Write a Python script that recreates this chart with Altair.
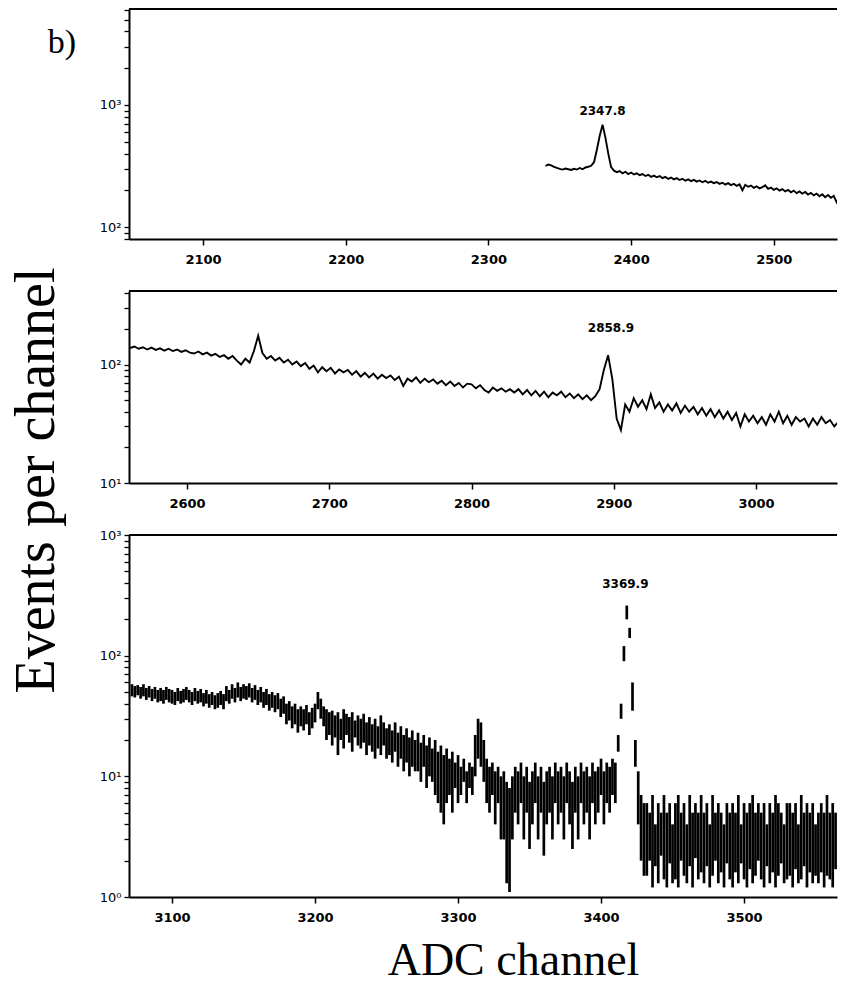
import altair as alt
import pandas as pd

# ---------------- data ----------------
# panel 1 (top): counts every 2 channels starting at channel 2340
p1_start, p1_step = 2340, 2
p1_counts = [318, 325, 320, 312, 305, 300, 296, 302, 298, 294,
             300, 296, 305, 298, 308, 312, 318, 340, 430, 560,
             690, 540, 400, 310, 290, 282, 288, 276, 284, 272,
             280, 270, 276, 266, 272, 262, 268, 258, 264, 256,
             262, 252, 258, 248, 255, 246, 252, 243, 249, 240,
             246, 238, 244, 236, 241, 233, 239, 231, 236, 229,
             234, 226, 231, 223, 229, 221, 226, 218, 224, 200,
             222, 214, 219, 210, 216, 208, 213, 220, 206, 211,
             202, 208, 199, 205, 196, 202, 193, 199, 190, 196,
             188, 194, 185, 191, 182, 188, 179, 186, 176, 183,
             174, 180, 160, 176, 172]

# panel 2 (middle): counts every 3 channels starting at channel 2560
p2_start, p2_step = 2560, 3
p2_counts = [138, 142, 136, 140, 134, 139, 133, 137, 131, 136,
             130, 134, 128, 132, 126, 124, 129, 122, 126, 119,
             123, 116, 120, 112, 118, 108, 100, 112, 104, 130,
             175, 125, 112, 118, 108, 114, 104, 110, 100, 106,
             97, 103, 92, 98, 86, 95, 88, 94, 84, 91,
             86, 90, 82, 88, 79, 85, 78, 84, 76, 82,
             77, 81, 74, 79, 66, 76, 72, 78, 70, 76,
             71, 75, 69, 73, 67, 72, 66, 70, 64, 69,
             68, 63, 67, 61, 58, 64, 60, 63, 59, 62,
             58, 62, 56, 61, 55, 60, 54, 59, 53, 58,
             55, 59, 53, 57, 52, 56, 51, 55, 50, 54,
             62, 90, 120, 75, 35, 28, 46, 40, 52, 44,
             50, 42, 56, 43, 48, 40, 46, 41, 47, 39,
             45, 40, 44, 38, 43, 37, 42, 36, 41, 35,
             40, 34, 39, 30, 38, 33, 37, 32, 36, 31,
             38, 33, 40, 32, 37, 31, 36, 33, 35, 30,
             35, 31, 36, 32, 34, 30, 33]

# panel 3 (bottom): spread of counts (high / low) every 2 channels from 3072
p3_start, p3_step = 3072, 2
p3_high = [58, 56, 57, 55, 58, 54, 56, 53, 55, 52,
           54, 52, 55, 53, 52, 50, 54, 51, 53, 55,
           52, 50, 54, 51, 53, 49, 52, 48, 50, 47,
           49, 51, 48, 56, 52, 58, 54, 60, 55, 58,
           56, 59, 54, 57, 52, 55, 50, 53, 48, 50,
           47, 49, 44, 46, 40, 42, 38, 40, 36, 38,
           36, 39, 34, 37, 40, 50, 44, 38, 36, 34,
           35, 32, 34, 30, 36, 33, 31, 34, 29, 32,
           30, 33, 28, 31, 27, 30, 26, 32, 28, 25,
           27, 24, 28, 23, 26, 22, 25, 21, 24, 20,
           23, 19, 22, 18, 21, 17, 20, 16, 18, 15,
           17, 14, 16, 13, 15, 12, 14, 11, 13, 12,
           22, 30, 28, 20, 14, 12, 13, 11, 12, 10,
           11, 9, 8, 10, 12, 11, 13, 10, 12, 9,
           11, 13, 10, 12, 9, 11, 12, 10, 13, 11,
           12, 10, 13, 11, 9, 12, 10, 13, 11, 12,
           10, 13, 11, 12, 14, 11, 13, 12, 14, 13,
           22, 40, 120, 260, 170, 60, 20, 11, 7, 6,
           6, 5, 7, 4, 6, 5, 7, 5, 6, 4,
           6, 7, 5, 6, 4, 7, 5, 6, 5, 7,
           5, 6, 4, 7, 5, 6, 5, 4, 6, 5,
           6, 5, 7, 4, 6, 5, 6, 7, 5, 6,
           5, 6, 4, 6, 5, 7, 6, 5, 4, 6,
           6, 5, 6, 4, 7, 5, 6, 5, 6, 4,
           5, 6, 5, 7, 5, 6, 5, 6, 5]
p3_low = [46, 45, 47, 44, 46, 43, 45, 42, 44, 41,
          42, 40, 43, 41, 40, 39, 42, 40, 41, 43,
          41, 39, 42, 40, 41, 38, 40, 37, 39, 36,
          37, 39, 36, 42, 40, 44, 41, 45, 42, 44,
          43, 45, 41, 43, 39, 41, 37, 39, 35, 37,
          34, 36, 31, 33, 27, 29, 25, 27, 23, 26,
          24, 27, 22, 25, 28, 36, 30, 26, 20, 22,
          18, 21, 15, 20, 17, 22, 19, 16, 21, 18,
          17, 19, 15, 18, 16, 14, 17, 15, 18, 14,
          15, 13, 16, 12, 14, 11, 13, 10, 12, 11,
          11, 9, 12, 8, 10, 9, 7, 6, 5, 4,
          6, 7, 5, 8, 6, 7, 9, 6, 8, 7,
          10, 14, 12, 9, 6, 5, 7, 4, 6, 3,
          3, 1.3, 1.1, 3, 5, 4, 6, 3, 5, 2.5,
          4, 6, 3, 5, 2.2, 4, 5, 3, 6, 4,
          5, 3, 6, 4, 2.5, 5, 3, 6, 4, 5,
          3, 6, 4, 5, 7, 4, 6, 5, 7, 6,
          16, 30, 90, 200, 140, 35, 12, 4, 2, 1.5,
          1.5, 2, 1.2, 1.8, 1.3, 2.2, 1.4, 1.2, 1.9, 1.3,
          1.4, 1.2, 2, 1.5, 1.3, 1.8, 1.2, 2.1, 1.4, 1.6,
          1.3, 1.8, 1.2, 1.5, 2, 1.3, 1.6, 1.2, 1.9, 1.4,
          1.2, 1.6, 1.3, 1.9, 1.4, 1.2, 1.7, 1.3, 1.5, 2,
          1.4, 1.2, 1.8, 1.3, 1.6, 1.2, 1.5, 1.9, 1.3, 1.4,
          1.5, 1.2, 1.7, 1.3, 1.4, 1.8, 1.2, 1.6, 1.3, 1.5,
          1.3, 1.6, 1.2, 1.5, 1.4, 1.2, 1.7, 1.3, 1.5]

p1_xticks = [2100, 2200, 2300, 2400, 2500]
p2_xticks = [2600, 2700, 2800, 2900, 3000]
p3_xticks = [3100, 3200, 3300, 3400, 3500]

peak_labels = ["2347.8", "2858.9", "3369.9"]
peak_x = [2380, 2898, 3417]
peak_y = [900, 205, 390]

# ---------------- layout constants ----------------
W = 708
H1, H2, H3 = 230, 192, 362
X1 = [2048.1, 2544.3]
X2 = [2559.2, 3056.9]
X3 = [3069.9, 3565.0]
Y1 = [80, 6100]
Y2 = [10, 418]
Y3 = [1, 1000]

LABEL_EXPR = ("datum.value == 1 ? '10\u2070' : datum.value == 10 ? '10\u00b9' : "
              "datum.value == 100 ? '10\u00b2' : datum.value == 1000 ? '10\u00b3' : ''")


def log_ticks(dom):
    out = []
    for e in range(-1, 5):
        for m in range(1, 10):
            v = m * 10 ** e
            if dom[0] <= v <= dom[1]:
                out.append(v)
    return out


def panel(main, xdom, ydom, H, xticks, label, lx, ly,
          yaxis_extra=None, xaxis_extra=None):
    xs = alt.Scale(domain=xdom, nice=False, zero=False)
    ys = alt.Scale(type="log", domain=ydom, nice=False)
    xa = dict(values=xticks, ticks=True, tickSize=6, tickWidth=1.5, tickColor="black",
              grid=False, domain=True, format="d",
              labelFont="DejaVu Sans", labelFontSize=13, labelFontWeight="bold",
              labelPadding=8, labelColor="black", title=None, labelOverlap=False)
    ya = dict(values=log_ticks(ydom), ticks=True, tickSize=5, tickWidth=1.3,
              tickColor="black", grid=False, domain=True,
              labelFont="DejaVu Sans", labelFontSize=13, labelPadding=3,
              labelColor="black", labelExpr=LABEL_EXPR, title=None,
              labelOverlap=False)
    if xaxis_extra:
        xa.update(xaxis_extra)
    if yaxis_extra:
        ya.update(yaxis_extra)
    base = main(alt.Axis(**xa), alt.Axis(**ya), xs, ys)

    ann = alt.Chart(pd.DataFrame({"x": [lx], "y": [ly], "t": [label]})).mark_text(
        font="DejaVu Sans", fontSize=12, fontWeight="bold", color="black").encode(
        x=alt.X("x:Q", scale=xs, axis=None), y=alt.Y("y:Q", scale=ys, axis=None),
        text="t:N")
    top = alt.Chart(pd.DataFrame({"a": [0]})).mark_rule(color="black", strokeWidth=2).encode(
        x=alt.value(0), x2=alt.value(W), y=alt.value(0))
    return alt.layer(base, ann, top).resolve_axis(
        x="independent", y="independent").properties(width=W, height=H)


def line_main(start, step, counts):
    df = pd.DataFrame({"ch": [start + step * i for i in range(len(counts))], "n": counts})

    def f(xa, ya, xs, ys):
        return alt.Chart(df).mark_line(color="black", strokeWidth=1.9, clip=True).encode(
            x=alt.X("ch:Q", scale=xs, axis=xa), y=alt.Y("n:Q", scale=ys, axis=ya))
    return f


def spread_main(start, step, hi, lo):
    df = pd.DataFrame({"ch": [start + step * i for i in range(len(hi))], "hi": hi, "lo": lo})

    def f(xa, ya, xs, ys):
        return alt.Chart(df).mark_rule(color="black", strokeWidth=2.7, clip=True).encode(
            x=alt.X("ch:Q", scale=xs, axis=xa), y=alt.Y("lo:Q", scale=ys, axis=ya), y2="hi:Q")
    return f


p1 = panel(line_main(p1_start, p1_step, p1_counts), X1, Y1, H1, p1_xticks,
           peak_labels[0], peak_x[0], peak_y[0])
blabel = alt.Chart(pd.DataFrame({"t": ["b)"]})).mark_text(
    font="Liberation Serif", fontSize=34, color="black").encode(
    x=alt.value(-67), y=alt.value(34), text="t:N")
p1 = alt.layer(p1, blabel)

p2 = panel(line_main(p2_start, p2_step, p2_counts), X2, Y2, H2, p2_xticks,
           peak_labels[1], peak_x[1], peak_y[1],
           yaxis_extra=dict(title="Events per channel", titleFont="Liberation Serif",
                            titleFontSize=56, titleFontWeight="normal", titleColor="black",
                            titleX=-93, titleY=189, titleAngle=270, titleAlign="center",
                            titleBaseline="middle"))

p3 = panel(spread_main(p3_start, p3_step, p3_high, p3_low), X3, Y3, H3, p3_xticks,
           peak_labels[2], peak_x[2], peak_y[2],
           xaxis_extra=dict(title="ADC channel", titleFont="Liberation Serif",
                            titleFontSize=46, titleFontWeight="normal", titleColor="black",
                            titleX=384, titleY=63, titleAlign="center", titleBaseline="middle"))

chart = alt.vconcat(p1, p2, p3, spacing=52, bounds="flush").properties(
    padding={"left": 7, "top": 3, "right": 0, "bottom": 0},
    background="white",
).configure_view(strokeWidth=0).configure_axis(domainColor="black", domainWidth=2)

chart.save("out.html", embed_options={"renderer": "svg", "actions": False})
